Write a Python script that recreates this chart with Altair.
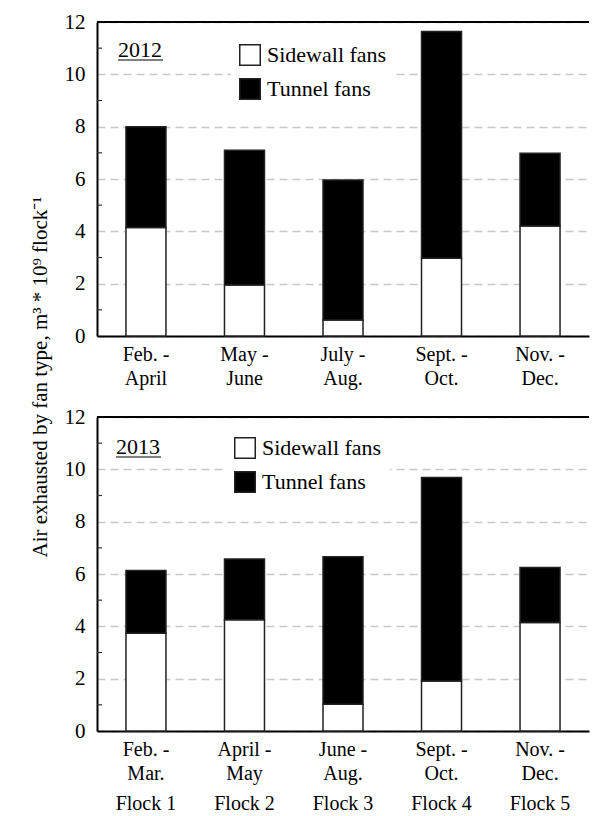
import altair as alt
import pandas as pd

# ---- data ----
periods_2012 = ["Feb. -\nApril", "May -\nJune", "July -\nAug.", "Sept. -\nOct.", "Nov. -\nDec."]
periods_2013 = ["Feb. -\nMar.", "April -\nMay", "June -\nAug.", "Sept. -\nOct.", "Nov. -\nDec."]
flocks = ["Flock 1", "Flock 2", "Flock 3", "Flock 4", "Flock 5"]
fan_types = ["Sidewall fans", "Tunnel fans"]
sidewall_2012 = [4.15, 1.95, 0.61, 2.97, 4.20]
tunnel_2012 = [3.85, 5.15, 5.35, 8.67, 2.78]
sidewall_2013 = [3.74, 4.25, 1.02, 1.91, 4.15]
tunnel_2013 = [2.39, 2.32, 5.64, 7.78, 2.10]
y_ticks = [0, 2, 4, 6, 8, 10, 12]
minor_ticks = [1, 3, 5, 7, 9, 11]
y_title = "Air exhausted by fan type, m\u00b3 * 10\u2079 flock\u207b\u00b9"

FONT = "Liberation Serif"
W, H = 492, 314


def panel(periods, side, tunnel, year, legend_xy, year_xy, show_title, show_flock):
    rows = []
    for i, p in enumerate(periods):
        rows.append({"period": p, "fan": fan_types[0], "value": side[i], "ord": 0})
        rows.append({"period": p, "fan": fan_types[1], "value": tunnel[i], "ord": 1})
    df = pd.DataFrame(rows)

    xscale = alt.Scale(paddingInner=0.594, paddingOuter=0.294)
    xenc = alt.X("period:N", sort=periods, scale=xscale,
                 axis=alt.Axis(title=None, labelAngle=0, ticks=False,
                               labelExpr="split(datum.label, '\\n')",
                               labelFont=FONT, labelColor="black",
                               labelFontSize=20, labelPadding=8, labelLineHeight=24,
                               domainWidth=2, domainColor="black"))
    yaxis = alt.Axis(values=y_ticks, grid=True, gridDash=[8, 5], gridColor="#c8c8c8",
                     gridWidth=1.5, ticks=False, labelPadding=12,
                     labelFont=FONT, labelColor="black", labelFontSize=21,
                     domainWidth=2, domainColor="black",
                     title=y_title if show_title else None,
                     titleFont=FONT, titleFontSize=21, titleFontWeight="normal",
                     titleColor="black", titleAngle=270, titleX=-57, titleY=354.5,
                     titleAlign="center", titleBaseline="middle")
    bars = alt.Chart(df).mark_bar(stroke="#222", strokeWidth=1.5).encode(
        x=xenc,
        y=alt.Y("value:Q", stack="zero", scale=alt.Scale(domain=[0, 12], nice=False),
                axis=yaxis),
        fill=alt.Fill("fan:N", scale=alt.Scale(domain=fan_types, range=["white", "black"]),
                      legend=alt.Legend(title=None, orient="none",
                                        legendX=legend_xy[0], legendY=legend_xy[1],
                                        fillColor="white", padding=8,
                                        symbolType="square", symbolSize=420,
                                        symbolStrokeColor="#222", symbolStrokeWidth=1.5,
                                        labelFont=FONT, labelFontSize=22,
                                        labelColor="black", rowPadding=6,
                                        labelOffset=6)),
        order=alt.Order("ord:Q"),
    )

    minor = alt.Chart(pd.DataFrame({"v": minor_ticks})).mark_rule(
        color="#333", strokeWidth=1.2).encode(
        x=alt.value(0), x2=alt.value(5), y=alt.Y("v:Q"))

    top = alt.Chart(pd.DataFrame({"v": [12]})).mark_rule(
        color="black", strokeWidth=2).encode(
        x=alt.value(0), x2=alt.value(W), y=alt.Y("v:Q"))

    ydf = pd.DataFrame({"year": [year]})
    ytext = alt.Chart(ydf).mark_text(font=FONT, fontSize=22, color="black",
                                     baseline="middle", align="center").encode(
        text="year:N", x=alt.value(year_xy[0]), y=alt.value(year_xy[1]))
    uline = alt.Chart(ydf).mark_rule(color="black", strokeWidth=1.2).encode(
        x=alt.value(year_xy[0] - 22), x2=alt.value(year_xy[0] + 23),
        y=alt.value(year_xy[1] + 10))

    layers = [bars, minor, top, ytext, uline]
    if show_flock:
        fdf = pd.DataFrame({"period": periods, "flock": flocks})
        ftext = alt.Chart(fdf).mark_text(font=FONT, fontSize=20, color="black",
                                         baseline="middle", align="center").encode(
            x=alt.X("period:N", sort=periods, scale=xscale),
            y=alt.value(H + 73), text="flock:N")
        layers.append(ftext)

    return alt.layer(*layers).properties(width=W, height=H)


p1 = panel(periods_2012, sidewall_2012, tunnel_2012, "2012", (134, 14), (43, 28), True, False)
p2 = panel(periods_2013, sidewall_2013, tunnel_2013, "2013", (129, 12), (41, 30), False, True)

chart = alt.vconcat(p1, p2, spacing=81, bounds="flush").resolve_scale(
    fill="independent", x="independent").resolve_legend(fill="independent").properties(
    padding={"left": 21, "top": 3, "right": 2, "bottom": 0}
).configure_view(stroke=None).configure_axis(
    labelFont=FONT, labelColor="black", domainColor="black"
)

chart.save("out.html", embed_options={"renderer": "svg", "actions": False})
